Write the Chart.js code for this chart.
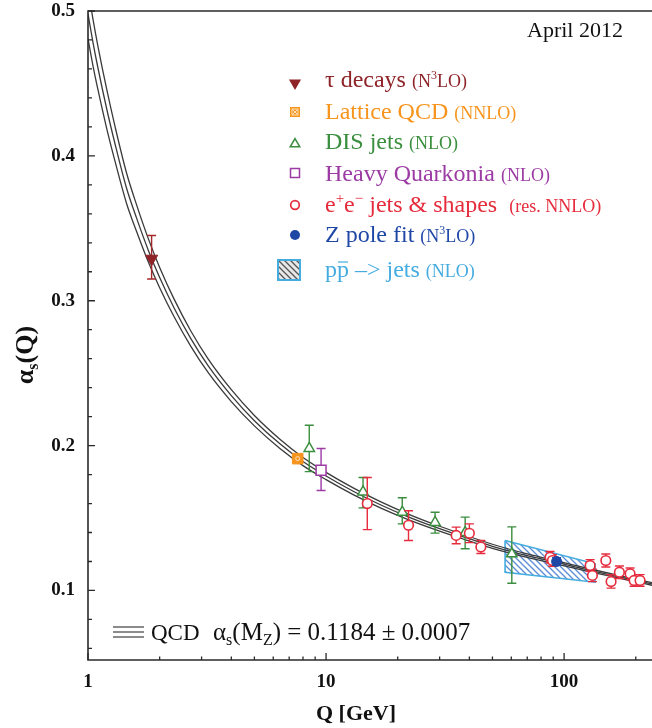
<!DOCTYPE html>
<html><head><meta charset="utf-8">
<script src="https://cdn.jsdelivr.net/npm/chart.js@4.4.1/dist/chart.umd.min.js"></script>
<style>html,body{margin:0;padding:0;background:#fff;}canvas{display:block;}</style>
</head><body>
<canvas id="c" width="652" height="728" style="width:652px;height:728px"></canvas>
<script>
// ---------------- data ----------------
const xTickLabels = [1, 10, 100];
const yTickLabels = [0.1, 0.2, 0.3, 0.4, 0.5];
const xMinorTicks = [2, 3, 4, 5, 6, 7, 8, 9, 20, 30, 40, 50, 60, 70, 80, 90, 200];
const yMinorTicks = [0.06, 0.08, 0.12, 0.14, 0.16, 0.18, 0.22, 0.24, 0.26, 0.28, 0.32, 0.34, 0.36, 0.38, 0.42, 0.44, 0.46, 0.48];
const xRange = [1, 234];
const yRange = [0.052, 0.5];

// QCD running coupling band (three lines)
const qcdQ       = [1.0, 1.05, 1.1, 1.2, 1.3, 1.45, 1.6, 1.8, 2.0, 2.3, 2.7, 3.2, 4.0, 5.0, 6.4, 8.0, 10, 13, 17, 22, 29, 37, 50, 70, 96, 133, 183, 234];
const qcdCentral = [0.498, 0.478, 0.461, 0.432, 0.408, 0.378, 0.357, 0.334, 0.316, 0.295, 0.274, 0.255, 0.2345, 0.2172, 0.2012, 0.189, 0.179, 0.1685, 0.159, 0.151, 0.1435, 0.1375, 0.1305, 0.1240, 0.1188, 0.1133, 0.1083, 0.1045];
const qcdHigh    = [0.515, 0.494, 0.476, 0.4455, 0.420, 0.3885, 0.3662, 0.342, 0.323, 0.3011, 0.2793, 0.2597, 0.2386, 0.2208, 0.2044, 0.1918, 0.1815, 0.1708, 0.1611, 0.1529, 0.1452, 0.1391, 0.1319, 0.1252, 0.1199, 0.1143, 0.1092, 0.1054];
const qcdLow     = [0.481, 0.462, 0.446, 0.4185, 0.396, 0.3675, 0.3478, 0.326, 0.309, 0.2889, 0.2687, 0.2503, 0.2304, 0.2136, 0.198, 0.1862, 0.1765, 0.1662, 0.1569, 0.1491, 0.1418, 0.1359, 0.1291, 0.1228, 0.1177, 0.1123, 0.1074, 0.1036];

// tau decays
const tauQ = [1.85];
const tauA = [0.329];
const tauUp = [0.016];
const tauDn = [0.014];
// Lattice QCD
const latQ = [7.6];
const latA = [0.191];
// DIS jets
const disQ  = [8.5, 14.3, 20.9, 28.7, 38.4, 60.3];
const disA  = [0.198, 0.168, 0.154, 0.147, 0.140, 0.1253];
const disUp = [0.016, 0.010, 0.010, 0.007, 0.0106, 0.0186];
const disDn = [0.016, 0.011, 0.008, 0.0074, 0.0112, 0.0203];
// Heavy quarkonia
const hqQ  = [9.53];
const hqA  = [0.183];
const hqUp = [0.015];
const hqDn = [0.014];
// e+e- jets & shapes
const eeQ  = [14.9, 22.2, 35.2, 40, 44.7, 87.3, 89.3, 128.6, 131.5, 149.7, 157.5, 170.7, 189.3, 196.8, 208.5];
const eeA  = [0.160, 0.145, 0.138, 0.1395, 0.130, 0.123, 0.1207, 0.1173, 0.1104, 0.1207, 0.1062, 0.1126, 0.1115, 0.1069, 0.1069];
const eeUp = [0.018, 0.010, 0.0057, 0.0065, 0.0045, 0.004, 0.004, 0.004, 0.0043, 0.0045, 0.0046, 0.0043, 0.004, 0.004, 0.004];
const eeDn = [0.018, 0.0105, 0.0058, 0.0065, 0.0045, 0.004, 0.004, 0.004, 0.0043, 0.0045, 0.0046, 0.0043, 0.004, 0.004, 0.004];
// Z pole fit
const zQ = [93];
const zA = [0.120];
const zUp = [0.0027];
const zDn = [0.0027];
// p pbar -> jets band (closed outline)
const ppQ = [56.5, 135, 135, 56.5, 56.5];
const ppA = [0.1345, 0.1184, 0.1057, 0.1126, 0.1345];

// ---------------- helpers ----------------
const SERIF = '"Liberation Serif","Times New Roman",serif';
const C = {
  tau: '#8E2328', lat: '#F7941D', dis: '#3A8E3E', hq: '#9B3BA3',
  ee: '#E62B3C', z: '#1F47A6', pp: '#45ACE0', curve: '#3a3a3a'
};
const pts = (qs, as) => qs.map((q, i) => ({x: q, y: as[i]}));

const canvas = document.getElementById('c');
const ctx0 = canvas.getContext('2d');
function hatchPattern(color, bg) {
  const c = document.createElement('canvas');
  c.width = 6; c.height = 6;
  const g = c.getContext('2d');
  if (bg) { g.fillStyle = bg; g.fillRect(0, 0, 6, 6); }
  g.strokeStyle = color; g.lineWidth = 1.3;
  g.beginPath();
  g.moveTo(-1, -1); g.lineTo(7, 7);
  g.moveTo(-1, 5); g.lineTo(1, 7);
  g.moveTo(5, -1); g.lineTo(7, 1);
  g.stroke();
  return ctx0.createPattern(c, 'repeat');
}
const bandPattern = hatchPattern('rgba(60,120,205,0.85)', null);
const legendPattern = hatchPattern('#555', '#e8e8e8');

function runs(ctx, x, y, parts, color) {
  let cx = x;
  for (const p of parts) {
    ctx.font = (p.b ? 'bold ' : '') + p.s + 'px ' + SERIF;
    ctx.fillStyle = p.c || color;
    ctx.fillText(p.t, cx, y + (p.dy || 0));
    const w = ctx.measureText(p.t).width;
    if (p.bar) {
      ctx.save(); ctx.strokeStyle = p.c || color; ctx.lineWidth = 1.2;
      ctx.beginPath(); ctx.moveTo(cx + 1, y - 15); ctx.lineTo(cx + w - 1, y - 15); ctx.stroke();
      ctx.restore();
    }
    cx += w;
  }
  return cx;
}
function runsWidth(ctx, parts) {
  let w = 0;
  for (const p of parts) { ctx.font = (p.b ? 'bold ' : '') + p.s + 'px ' + SERIF; w += ctx.measureText(p.t).width; }
  return w;
}
function tri(ctx, x, y, r, down) {
  const s = down ? -1 : 1, h = r * Math.cos(Math.PI / 6);
  ctx.beginPath();
  ctx.moveTo(x, y - s * r);
  ctx.lineTo(x + h, y + s * r / 2);
  ctx.lineTo(x - h, y + s * r / 2);
  ctx.closePath();
}
function drawMarker(ctx, kind, x, y) {
  ctx.save();
  ctx.lineWidth = 1.5;
  if (kind === 'tau') { ctx.fillStyle = C.tau; tri(ctx, x, y + 1, 7, true); ctx.fill(); }
  else if (kind === 'lat') {
    ctx.fillStyle = C.lat; ctx.fillRect(x - 5, y - 5, 10, 10);
    ctx.strokeStyle = '#FDE2C0'; ctx.lineWidth = 1;
    ctx.strokeRect(x - 3, y - 3, 6, 6);
    ctx.beginPath(); ctx.moveTo(x - 3, y - 3); ctx.lineTo(x + 3, y + 3); ctx.moveTo(x + 3, y - 3); ctx.lineTo(x - 3, y + 3); ctx.stroke();
  }
  else if (kind === 'dis') { ctx.strokeStyle = C.dis; tri(ctx, x, y + 1, 5.5, false); ctx.stroke(); }
  else if (kind === 'hq') { ctx.strokeStyle = C.hq; ctx.strokeRect(x - 4.5, y - 4.5, 9, 9); }
  else if (kind === 'ee') { ctx.strokeStyle = C.ee; ctx.lineWidth = 1.7; ctx.beginPath(); ctx.arc(x, y, 4.3, 0, Math.PI * 2); ctx.stroke(); }
  else if (kind === 'z') { ctx.fillStyle = C.z; ctx.beginPath(); ctx.arc(x, y, 5, 0, Math.PI * 2); ctx.fill(); }
  else if (kind === 'pp') {
    ctx.fillStyle = legendPattern; ctx.fillRect(278, y - 10, 22, 20);
    ctx.strokeStyle = C.pp; ctx.lineWidth = 2; ctx.strokeRect(278, y - 10, 22, 20);
  }
  ctx.restore();
}

const legendRows = [
  {kind: 'tau', my: 82, by: 87, color: C.tau, parts: [{t: 'τ decays ', s: 24}, {t: '(N', s: 18}, {t: '3', s: 12, dy: -8}, {t: 'LO)', s: 18}]},
  {kind: 'lat', my: 112, by: 119, color: C.lat, parts: [{t: 'Lattice QCD ', s: 24}, {t: '(NNLO)', s: 18}]},
  {kind: 'dis', my: 143, by: 149, color: C.dis, parts: [{t: 'DIS jets ', s: 24}, {t: '(NLO)', s: 18}]},
  {kind: 'hq', my: 173, by: 181, color: C.hq, parts: [{t: 'Heavy Quarkonia ', s: 24}, {t: '(NLO)', s: 18}]},
  {kind: 'ee', my: 205, by: 212, color: C.ee, parts: [{t: 'e', s: 24}, {t: '+', s: 15, dy: -9}, {t: 'e', s: 24}, {t: '−', s: 15, dy: -9}, {t: ' jets & shapes  ', s: 24}, {t: '(res. NNLO)', s: 18}]},
  {kind: 'z', my: 235, by: 242, color: C.z, parts: [{t: 'Z pole fit ', s: 24}, {t: '(N', s: 18}, {t: '3', s: 12, dy: -8}, {t: 'LO)', s: 18}]},
  {kind: 'pp', my: 270, by: 277, color: C.pp, parts: [{t: 'p', s: 24}, {t: 'p', s: 24, bar: true}, {t: ' –> jets ', s: 24}, {t: '(NLO)', s: 18}]}
];

const decor = {
  id: 'decor',
  beforeDatasetDraw(chart, args) {
    const ds = chart.data.datasets[args.index];
    if (!ds.errUp) return;
    const ctx = chart.ctx, xs = chart.scales.x, ys = chart.scales.y;
    ctx.save();
    ctx.strokeStyle = ds.errColor; ctx.lineWidth = 1.4;
    ds.data.forEach((p, i) => {
      const up = ds.errUp[i], dn = ds.errDown[i];
      if (!up && !dn) return;
      const x = xs.getPixelForValue(p.x);
      const y1 = ys.getPixelForValue(p.y + up), y2 = ys.getPixelForValue(p.y - dn);
      ctx.beginPath();
      ctx.moveTo(x, y1); ctx.lineTo(x, y2);
      ctx.moveTo(x - 4.5, y1); ctx.lineTo(x + 4.5, y1);
      ctx.moveTo(x - 4.5, y2); ctx.lineTo(x + 4.5, y2);
      ctx.stroke();
    });
    ctx.restore();
  },
  afterDraw(chart) {
    const ctx = chart.ctx, a = chart.chartArea, xs = chart.scales.x, ys = chart.scales.y;
    ctx.save();
    // frame
    ctx.strokeStyle = '#2a2a2a'; ctx.lineWidth = 1.6;
    ctx.beginPath();
    ctx.moveTo(a.right + 2, a.top); ctx.lineTo(a.left, a.top); ctx.lineTo(a.left, a.bottom); ctx.lineTo(a.right + 2, a.bottom);
    ctx.stroke();
    // inward ticks
    ctx.lineWidth = 1.3;
    ctx.beginPath();
    yTickLabels.forEach(v => { const y = ys.getPixelForValue(v); ctx.moveTo(a.left, y); ctx.lineTo(a.left + 7, y); });
    yMinorTicks.forEach(v => { const y = ys.getPixelForValue(v); ctx.moveTo(a.left, y); ctx.lineTo(a.left + 4, y); });
    xTickLabels.forEach(v => { const x = xs.getPixelForValue(v); ctx.moveTo(x, a.bottom); ctx.lineTo(x, a.bottom - 7); });
    xMinorTicks.forEach(v => { const x = xs.getPixelForValue(v); ctx.moveTo(x, a.bottom); ctx.lineTo(x, a.bottom - 3.5); });
    ctx.stroke();

    ctx.textBaseline = 'alphabetic';
    ctx.textAlign = 'left';
    // date
    runs(ctx, 527, 37, [{t: 'April 2012', s: 22}], '#111');
    // legend
    legendRows.forEach(r => {
      drawMarker(ctx, r.kind, 295, r.my);
      runs(ctx, 325, r.by, r.parts, r.color);
    });
    // QCD key
    ctx.strokeStyle = '#666'; ctx.lineWidth = 1.3;
    ctx.beginPath();
    [627, 632, 637].forEach(y => { ctx.moveTo(113, y); ctx.lineTo(144, y); });
    ctx.stroke();
    runs(ctx, 151, 640, [{t: 'QCD', s: 23}], '#111');
    runs(ctx, 213, 640, [{t: 'α', s: 25}, {t: 's', s: 16, dy: 5}, {t: '(M', s: 25}, {t: 'Z', s: 16, dy: 5}, {t: ') = 0.1184 ± 0.0007', s: 25}], '#111');
    // x title
    const xt = [{t: 'Q [GeV]', s: 22, b: true}];
    runs(ctx, 356 - runsWidth(ctx, xt) / 2, 720, xt, '#111');
    // y title (rotated)
    const yt = [{t: 'α', s: 26, b: true}, {t: 's', s: 16, b: true, dy: 5}, {t: '(Q)', s: 26, b: true}];
    ctx.translate(33, 355);
    ctx.rotate(-Math.PI / 2);
    runs(ctx, -runsWidth(ctx, yt) / 2, 0, yt, '#111');
    ctx.restore();
  }
};

const tickFont = {family: SERIF, size: 19, weight: 'bold', lineHeight: 1};

new Chart(canvas, {
  type: 'scatter',
  data: {
    datasets: [
      {type: 'line', data: pts(ppQ, ppA), fill: 'shape', backgroundColor: bandPattern, borderColor: C.pp, borderWidth: 1.6, pointRadius: 0, tension: 0, order: 10},
      {type: 'line', data: pts(qcdQ, qcdHigh), borderColor: C.curve, borderWidth: 1.3, pointRadius: 0, fill: false, cubicInterpolationMode: 'monotone', order: 6},
      {type: 'line', data: pts(qcdQ, qcdCentral), borderColor: C.curve, borderWidth: 1.3, pointRadius: 0, fill: false, cubicInterpolationMode: 'monotone', order: 6},
      {type: 'line', data: pts(qcdQ, qcdLow), borderColor: C.curve, borderWidth: 1.3, pointRadius: 0, fill: false, cubicInterpolationMode: 'monotone', order: 6},
      {data: pts(tauQ, tauA), errUp: tauUp, errDown: tauDn, errColor: '#A2282C', pointStyle: 'triangle', rotation: 180, pointRadius: 7, backgroundColor: C.tau, borderColor: C.tau, borderWidth: 1, order: 3},
      {data: pts(disQ, disA), errUp: disUp, errDown: disDn, errColor: C.dis, pointStyle: 'triangle', pointRadius: 6, backgroundColor: '#fff', borderColor: C.dis, borderWidth: 1.5, order: 3},
      {data: pts(hqQ, hqA), errUp: hqUp, errDown: hqDn, errColor: C.hq, pointStyle: 'rect', pointRadius: 7, backgroundColor: '#fff', borderColor: C.hq, borderWidth: 1.5, order: 3},
      {data: pts(latQ, latA), pointStyle: 'rect', pointRadius: 7.5, backgroundColor: C.lat, borderColor: C.lat, borderWidth: 1, order: 2},
      {data: pts(latQ, latA), pointStyle: 'circle', pointRadius: 2, backgroundColor: 'rgba(0,0,0,0)', borderColor: '#FFE6C4', borderWidth: 1, order: 1},
      {data: pts(eeQ, eeA), errUp: eeUp, errDown: eeDn, errColor: C.ee, pointStyle: 'circle', pointRadius: 4.8, backgroundColor: '#fff', borderColor: C.ee, borderWidth: 1.6, order: 2},
      {data: pts(zQ, zA), errUp: zUp, errDown: zDn, errColor: C.z, pointStyle: 'circle', pointRadius: 5, backgroundColor: C.z, borderColor: C.z, borderWidth: 1, order: 1}
    ]
  },
  options: {
    responsive: false,
    animation: false,
    events: [],
    layout: {autoPadding: false, padding: {top: 11, left: 0, right: 0, bottom: 0}},
    plugins: {legend: {display: false}, tooltip: {enabled: false}, title: {display: false}},
    scales: {
      x: {
        type: 'logarithmic', min: xRange[0], max: xRange[1],
        grid: {display: false, drawTicks: false, tickLength: 0},
        border: {display: false},
        afterBuildTicks: s => { s.ticks = xTickLabels.map(v => ({value: v})); },
        afterFit: s => { s.height = 68; s.paddingLeft = 0; s.paddingRight = 0; },
        ticks: {autoSkip: false, maxRotation: 0, minRotation: 0, padding: 13, color: '#111', font: tickFont, callback: v => String(v)}
      },
      y: {
        type: 'linear', min: yRange[0], max: yRange[1],
        grid: {display: false, drawTicks: false, tickLength: 0},
        border: {display: false},
        afterBuildTicks: s => { s.ticks = yTickLabels.map(v => ({value: v})); },
        afterFit: s => { s.width = 88; s.paddingTop = 0; s.paddingBottom = 0; },
        ticks: {padding: 13, color: '#111', font: tickFont, callback: v => v.toFixed(1)}
      }
    }
  },
  plugins: [decor]
});
</script>
</body></html>
